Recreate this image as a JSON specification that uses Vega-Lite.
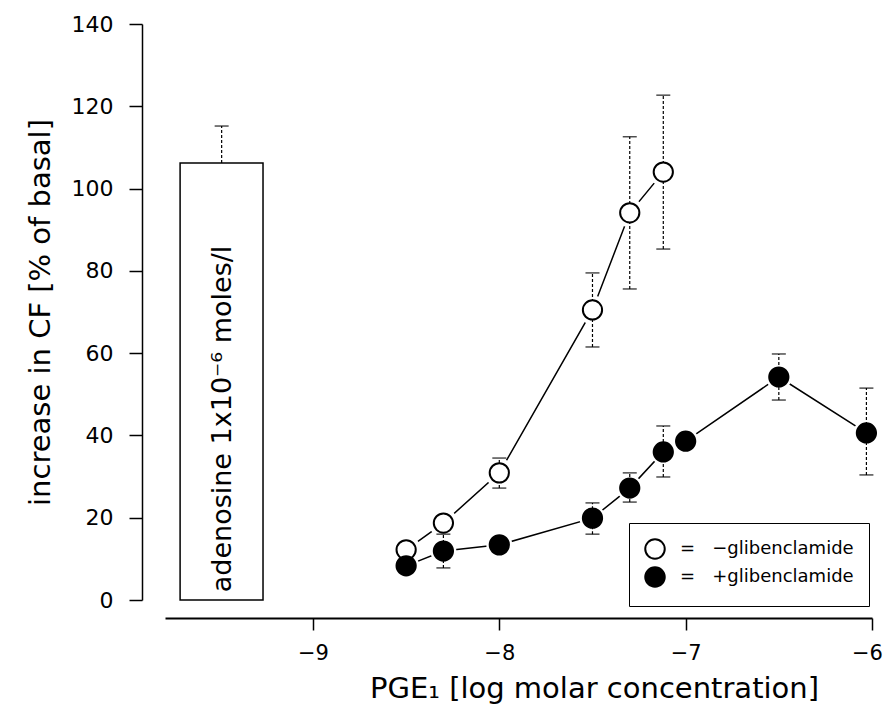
{
  "$schema": "https://vega.github.io/schema/vega-lite/v6.json",
  "width": 707,
  "height": 576,
  "autosize": {"type": "none"},
  "padding": {"left": 165, "top": 24, "right": 14, "bottom": 110},
  "background": "white",
  "config": {"view": {"stroke": null}, "font": "DejaVu Sans"},
  "datasets": {
    "pts": [
      {"series": "−glibenclamide", "x": -8.5, "y": 12.2, "lo": null, "hi": null},
      {"series": "−glibenclamide", "x": -8.3, "y": 18.7, "lo": null, "hi": null},
      {"series": "−glibenclamide", "x": -8.0, "y": 30.9, "lo": 27.2, "hi": 34.5},
      {"series": "−glibenclamide", "x": -7.5, "y": 70.5, "lo": 61.5, "hi": 79.5},
      {"series": "−glibenclamide", "x": -7.3, "y": 94.1, "lo": 75.6, "hi": 112.6},
      {"series": "−glibenclamide", "x": -7.12, "y": 104.0, "lo": 85.3, "hi": 122.7},
      {"series": "+glibenclamide", "x": -8.5, "y": 8.3, "lo": null, "hi": null},
      {"series": "+glibenclamide", "x": -8.3, "y": 11.9, "lo": 7.8, "hi": 16.0},
      {"series": "+glibenclamide", "x": -8.0, "y": 13.4, "lo": null, "hi": null},
      {"series": "+glibenclamide", "x": -7.5, "y": 19.9, "lo": 16.0, "hi": 23.6},
      {"series": "+glibenclamide", "x": -7.3, "y": 27.2, "lo": 23.8, "hi": 30.9},
      {"series": "+glibenclamide", "x": -7.12, "y": 36.0, "lo": 29.9, "hi": 42.3},
      {"series": "+glibenclamide", "x": -7.0, "y": 38.6, "lo": null, "hi": null},
      {"series": "+glibenclamide", "x": -6.5, "y": 54.2, "lo": 48.6, "hi": 59.8},
      {"series": "+glibenclamide", "x": -6.03, "y": 40.6, "lo": 30.4, "hi": 51.5}
    ],
    "bar": [
      {"x": -9.713, "x2v": -9.268, "xc": -9.49, "y": 106.2, "hi": 115.2, "tx": -9.483, "ty": 44.0, "label": "adenosine 1x10⁻⁶  moles/l"}
    ]
  },
  "layer": [
    {
      "data": {"name": "bar"},
      "mark": {"type": "rect", "fill": "white", "stroke": "black", "strokeWidth": 1.5},
      "encoding": {
        "x": {
          "field": "x", "type": "quantitative",
          "scale": {"domain": [-9.794, -6], "nice": false, "zero": false},
          "axis": {
            "title": "PGE₁ [log molar concentration]", "values": [-9, -8, -7, -6], "format": "d",
            "offset": 18, "grid": false, "domainColor": "black", "domainWidth": 2,
            "tickColor": "black", "tickWidth": 1.5, "tickSize": 12, "labelFlush": false,
            "labelOffset": {"condition": {"test": "datum.value == -6", "value": -5}, "value": 0},
            "labelFontSize": 21, "labelColor": "black", "labelPadding": 12, "labelFont": "DejaVu Sans",
            "titleFontSize": 29, "titleFontWeight": "normal", "titleColor": "black", "titleFont": "DejaVu Sans",
            "titleX": 429, "titleY": 70, "titleBaseline": "middle", "titleAlign": "center"
          }
        },
        "x2": {"field": "x2v"},
        "y": {
          "field": "y", "type": "quantitative",
          "scale": {"domain": [0, 140], "nice": false},
          "axis": {
            "title": "increase in CF [% of basal]", "values": [0, 20, 40, 60, 80, 100, 120, 140],
            "offset": 23, "grid": false, "domainColor": "black", "domainWidth": 1.5,
            "tickColor": "black", "tickWidth": 1.5, "tickSize": 13,
            "labelFontSize": 22, "labelColor": "black", "labelPadding": 16, "labelFont": "DejaVu Sans",
            "titleFontSize": 29, "titleFontWeight": "normal", "titleColor": "black", "titleFont": "DejaVu Sans",
            "titleX": -102, "titleY": 288, "titleAngle": 270, "titleAlign": "center", "titleBaseline": "middle"
          }
        },
        "y2": {"datum": 0}
      }
    },
    {
      "data": {"name": "bar"},
      "mark": {"type": "rule", "color": "black", "strokeWidth": 1.2, "strokeDash": [3, 2]},
      "encoding": {
        "x": {"field": "xc", "type": "quantitative"},
        "y": {"field": "y", "type": "quantitative"},
        "y2": {"field": "hi"}
      }
    },
    {
      "data": {"name": "bar"},
      "mark": {"type": "tick", "orient": "horizontal", "color": "black", "size": 14, "thickness": 1.5},
      "encoding": {
        "x": {"field": "xc", "type": "quantitative"},
        "y": {"field": "hi", "type": "quantitative"}
      }
    },
    {
      "data": {"name": "bar"},
      "mark": {"type": "text", "angle": 270, "fontSize": 27, "align": "center", "baseline": "middle", "color": "black", "font": "DejaVu Sans"},
      "encoding": {
        "x": {"field": "tx", "type": "quantitative"},
        "y": {"field": "ty", "type": "quantitative"},
        "text": {"field": "label"}
      }
    },
    {
      "data": {"name": "pts"},
      "mark": {"type": "line", "color": "black", "strokeWidth": 1.5},
      "encoding": {
        "x": {"field": "x", "type": "quantitative"},
        "y": {"field": "y", "type": "quantitative"},
        "detail": {"field": "series"},
        "order": {"field": "x"}
      }
    },
    {
      "data": {"name": "pts"},
      "transform": [{"filter": "datum.series == '−glibenclamide'"}],
      "mark": {"type": "point", "shape": "circle", "filled": true, "fill": "white", "strokeWidth": 0, "size": 841, "opacity": 1},
      "encoding": {
        "x": {"field": "x", "type": "quantitative"},
        "y": {"field": "y", "type": "quantitative"}
      }
    },
    {
      "data": {"name": "pts"},
      "transform": [{"filter": "datum.series == '+glibenclamide'"}],
      "mark": {"type": "point", "shape": "circle", "filled": true, "fill": "white", "strokeWidth": 0, "size": 676, "opacity": 1},
      "encoding": {
        "x": {"field": "x", "type": "quantitative"},
        "y": {"field": "y", "type": "quantitative"}
      }
    },
    {
      "data": {"name": "pts"},
      "transform": [{"filter": "isValid(datum.lo)"}],
      "mark": {"type": "rule", "color": "black", "strokeWidth": 1.2, "strokeDash": [3, 2]},
      "encoding": {
        "x": {"field": "x", "type": "quantitative"},
        "y": {"field": "lo", "type": "quantitative"},
        "y2": {"field": "hi"}
      }
    },
    {
      "data": {"name": "pts"},
      "transform": [{"filter": "isValid(datum.lo)"}],
      "mark": {"type": "tick", "orient": "horizontal", "color": "black", "size": 14, "thickness": 1.5},
      "encoding": {
        "x": {"field": "x", "type": "quantitative"},
        "y": {"field": "lo", "type": "quantitative"}
      }
    },
    {
      "data": {"name": "pts"},
      "transform": [{"filter": "isValid(datum.hi)"}],
      "mark": {"type": "tick", "orient": "horizontal", "color": "black", "size": 14, "thickness": 1.5},
      "encoding": {
        "x": {"field": "x", "type": "quantitative"},
        "y": {"field": "hi", "type": "quantitative"}
      }
    },
    {
      "data": {"name": "pts"},
      "mark": {"type": "point", "shape": "circle", "filled": true, "stroke": "black", "strokeWidth": 2, "size": 370, "opacity": 1},
      "encoding": {
        "x": {"field": "x", "type": "quantitative"},
        "y": {"field": "y", "type": "quantitative"},
        "fill": {
          "field": "series", "type": "nominal",
          "scale": {"domain": ["−glibenclamide", "+glibenclamide"], "range": ["white", "black"]},
          "legend": {
            "title": null, "orient": "none", "legendX": 464, "legendY": 499, "padding": 15,
            "strokeColor": "black", "rowPadding": 0, "labelFontSize": 18, "labelFont": "DejaVu Sans",
            "labelColor": "black", "labelOffset": 14, "symbolType": "circle", "symbolSize": 380,
            "symbolStrokeColor": "black", "symbolStrokeWidth": 2, "symbolOpacity": 1,
            "labelExpr": "'=\u00a0\u00a0\u00a0' + datum.label", "labelLimit": 300
          }
        }
      }
    }
  ]
}
